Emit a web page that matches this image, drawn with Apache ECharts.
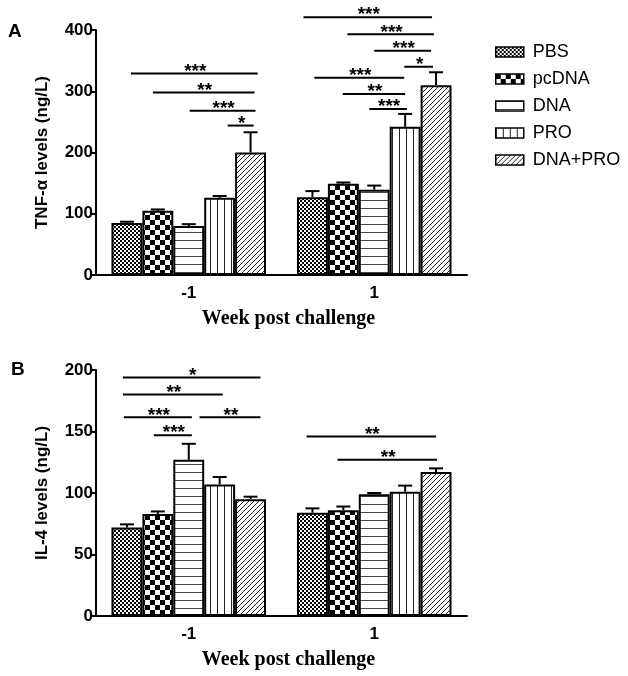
<!DOCTYPE html>
<html>
<head>
<meta charset="utf-8">
<script src="https://cdn.jsdelivr.net/npm/echarts@6/dist/echarts.min.js"></script>
<style>
  html, body { margin: 0; padding: 0; background: #fff; }
  #chart { width: 628px; height: 676px; }
</style>
</head>
<body>
<div id="chart"></div>
<script>
// categories and groups
var weeks = ['-1', '1'];
var groups = ['PBS', 'pcDNA', 'DNA', 'PRO', 'DNA+PRO'];

// TNF-a (ng/L): mean and top of error bar, per group [week -1, week 1]
var tnfMean  = [[85, 127], [105, 149], [80, 139], [126, 242], [200, 310]];
var tnfUpper = [[87, 137], [107, 151], [83, 146], [129, 263], [233, 331]];

// IL-4 (ng/L)
var il4Mean  = [[72, 84], [83, 86], [127, 99], [107, 101], [95, 117]];
var il4Upper = [[74.5, 87.5], [85, 89], [140, 100], [113, 106], [97, 120]];

// significance bars: [week index, from bar, to bar, y value, label]
var sigTnf = [
  [0, 0.13, 4.23, 329, '***'],
  [0, 0.84, 4.13, 298, '**'],
  [0, 2.03, 4.16, 268, '***'],
  [0, 3.26, 4.10, 244, '*'],
  [1, -0.29, 3.87, 421, '***'],
  [1, 1.13, 3.93, 393, '***'],
  [1, 2.00, 3.84, 366, '***'],
  [1, 2.97, 3.90, 340, '*'],
  [1, 0.06, 2.97, 322, '***'],
  [1, 0.98, 3.00, 295.5, '**'],
  [1, 1.84, 3.06, 271, '***']
];
var sigIl4 = [
  [0, -0.13, 4.32, 194, '*'],
  [0, -0.13, 3.10, 180, '**'],
  [0, -0.10, 2.10, 161.5, '***'],
  [0, 2.35, 4.32, 161.5, '**'],
  [0, 0.87, 2.10, 147, '***'],
  [1, -0.19, 4.00, 146, '**'],
  [1, 0.81, 4.03, 127, '**']
];

var GAP = 0.167;
var N = groups.length;
var FONT = 'Liberation Sans, Arial, sans-serif';

// fill patterns
function pattern(w, h, draw) {
  var c = document.createElement('canvas');
  c.width = w; c.height = h;
  var g = c.getContext('2d');
  g.fillStyle = '#fff';
  g.fillRect(0, 0, w, h);
  draw(g);
  return { image: c, repeat: 'repeat' };
}
var fills = [
  pattern(4, 4, function (g) { g.fillStyle = '#000'; g.fillRect(0, 0, 2, 2); g.fillRect(2, 2, 2, 2); }),
  pattern(10, 10, function (g) { g.fillStyle = '#000'; g.fillRect(0, 0, 5, 5); g.fillRect(5, 5, 5, 5); }),
  pattern(4, 8, function (g) { g.fillStyle = '#444'; g.fillRect(0, 0, 4, 1); }),
  pattern(7, 4, function (g) { g.fillStyle = '#222'; g.fillRect(0, 0, 1, 4); }),
  pattern(5, 5, function (g) {
    g.strokeStyle = '#222'; g.lineWidth = 1;
    g.beginPath();
    g.moveTo(-1, 6); g.lineTo(6, -1);
    g.moveTo(-1, 1); g.lineTo(1, -1);
    g.moveTo(4, 6); g.lineTo(6, 4);
    g.stroke();
  })
];

function barX(api, cat, pos) {
  var band = api.size([1, 0])[0];
  var w = band * (1 - GAP) / N;
  return api.coord([cat, 0])[0] - band * (1 - GAP) / 2 + w * (pos + 0.5);
}

function errorItem(params, api) {
  var cat = api.value(0), s = api.value(3);
  var x = barX(api, cat, s);
  var yM = api.coord([cat, api.value(1)])[1];
  var yT = api.coord([cat, api.value(2)])[1];
  var st = { stroke: '#000', lineWidth: 2 };
  return {
    type: 'group',
    children: [
      { type: 'line', shape: { x1: x, y1: yM, x2: x, y2: yT }, style: st },
      { type: 'line', shape: { x1: x - 7, y1: yT, x2: x + 7, y2: yT }, style: st }
    ]
  };
}

function sigRenderer(list) {
  return function (params, api) {
    var d = list[params.dataIndex];
    var x1 = barX(api, d[0], d[1]);
    var x2 = barX(api, d[0], d[2]);
    var y = api.coord([d[0], d[3]])[1];
    return {
      type: 'group',
      children: [
        { type: 'line', shape: { x1: x1, y1: y, x2: x2, y2: y }, style: { stroke: '#000', lineWidth: 2 } },
        { type: 'text', x: (x1 + x2) / 2 + 1, y: y - 2,
          style: { text: d[4], fill: '#000', font: 'bold 19px ' + FONT, align: 'center', verticalAlign: 'middle' } }
      ]
    };
  };
}

function errData(mean, upper) {
  var out = [];
  for (var s = 0; s < N; s++) {
    for (var c = 0; c < weeks.length; c++) out.push([c, mean[s][c], upper[s][c], s]);
  }
  return out;
}

var chart = echarts.init(document.getElementById('chart'));

var axisLine = { lineStyle: { color: '#000', width: 2 } };
var tickStyle = { length: 6, lineStyle: { color: '#000', width: 2 } };
var tickLabel = { color: '#000', fontSize: 17, fontWeight: 'bold', fontFamily: FONT };

function xAxis(gi) {
  return {
    type: 'category', gridIndex: gi, data: weeks,
    axisLine: axisLine, axisTick: { alignWithLabel: true, length: 6, lineStyle: { color: '#000', width: 2 } },
    axisLabel: Object.assign({ margin: 10 }, tickLabel),
    name: 'Week post challenge', nameLocation: 'middle', nameGap: 34,
    nameTextStyle: { color: '#000', fontSize: 20, fontWeight: 'bold', fontFamily: 'Liberation Serif, Times New Roman, serif', padding: [0, 0, 0, 14] }
  };
}
function yAxis(gi, max, step, name) {
  return {
    type: 'value', gridIndex: gi, min: 0, max: max, interval: step,
    axisLine: { show: true, lineStyle: { color: '#000', width: 2 } },
    axisTick: Object.assign({ show: true }, tickStyle),
    splitLine: { show: false },
    axisLabel: Object.assign({ margin: 3 }, tickLabel),
    name: name, nameLocation: 'middle', nameGap: 45,
    nameTextStyle: { color: '#000', fontSize: 17, fontWeight: 'bold', fontFamily: FONT }
  };
}

var series = [];
[tnfMean, il4Mean].forEach(function (mean, gi) {
  groups.forEach(function (g, s) {
    series.push({
      name: g, type: 'bar', xAxisIndex: gi, yAxisIndex: gi,
      data: mean[s], barGap: '0%', barCategoryGap: (GAP * 100) + '%',
      itemStyle: { color: fills[s], borderColor: '#000', borderWidth: 2 },
      emphasis: { disabled: true }
    });
  });
});
series.push({
  type: 'custom', xAxisIndex: 0, yAxisIndex: 0, z: 5, clip: false,
  renderItem: errorItem, data: errData(tnfMean, tnfUpper), encode: { x: 0, y: 2 }
});
series.push({
  type: 'custom', xAxisIndex: 1, yAxisIndex: 1, z: 5, clip: false,
  renderItem: errorItem, data: errData(il4Mean, il4Upper), encode: { x: 0, y: 2 }
});
series.push({
  type: 'custom', xAxisIndex: 0, yAxisIndex: 0, z: 5, clip: false,
  renderItem: sigRenderer(sigTnf), data: sigTnf.map(function (d) { return d.slice(0, 4); }), encode: { x: 0, y: 3 }
});
series.push({
  type: 'custom', xAxisIndex: 1, yAxisIndex: 1, z: 5, clip: false,
  renderItem: sigRenderer(sigIl4), data: sigIl4.map(function (d) { return d.slice(0, 4); }), encode: { x: 0, y: 3 }
});

var option = {
  animation: false,
  backgroundColor: '#fff',
  grid: [
    { left: 96, right: 161, top: 30, bottom: 401 },
    { left: 96, right: 161, top: 370, bottom: 60 }
  ],
  xAxis: [xAxis(0), xAxis(1)],
  yAxis: [yAxis(0, 400, 100, 'TNF-α levels (ng/L)'), yAxis(1, 200, 50, 'IL-4 levels (ng/L)')],
  legend: {
    data: groups, orient: 'vertical', left: 490, top: 38,
    icon: 'rect', itemWidth: 28, itemHeight: 10, itemGap: 9,
    itemStyle: { borderColor: '#000', borderWidth: 1.5 },
    textStyle: { color: '#000', fontSize: 18, fontFamily: FONT, padding: [0, 0, 0, 4] }
  },
  graphic: [
    { type: 'text', left: 8, top: 22, style: { text: 'A', fill: '#000', font: 'bold 19px ' + FONT } },
    { type: 'text', left: 11, top: 360, style: { text: 'B', fill: '#000', font: 'bold 19px ' + FONT } }
  ],
  series: series
};
chart.setOption(option);
</script>
</body>
</html>
